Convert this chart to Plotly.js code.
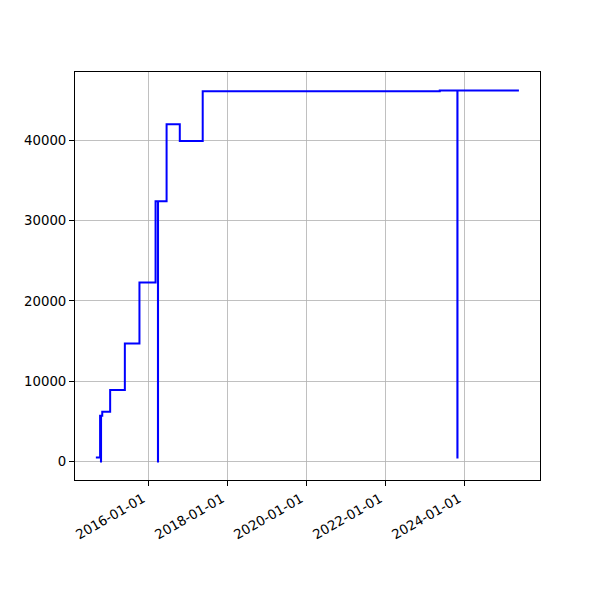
<!DOCTYPE html>
<html>
<head>
<meta charset="utf-8">
<script src="https://cdn.plot.ly/plotly-3.0.1.min.js"></script>
<style>html,body{margin:0;padding:0;background:#fff}#chart{width:600px;height:600px}</style>
</head>
<body>
<div id="chart"></div>
<script>
var dates = ["2014-08-29","2014-10-07","2014-10-15","2014-10-16","2014-10-27","2015-01-08","2015-05-24","2015-10-06","2016-03-03","2016-03-25","2016-03-26","2016-06-13","2016-10-13","2017-05-13","2023-05-14","2023-10-24","2023-10-25","2025-05-15"];
var values = [500,5700,0,5700,6200,8900,14700,22300,32400,0,32400,42000,39900,46100,46200,500,46200,46200];
var tickDates = ["2016-01-01","2018-01-01","2020-01-01","2022-01-01","2024-01-01"];
var yTicks = [0,10000,20000,30000,40000];

var trace = {
  x: dates, y: values, type: "scatter", mode: "lines",
  line: {color: "#0000ff", width: 2, shape: "hv"}
};
var font = {family: "DejaVu Sans", size: 13.3, color: "#000"};
var layout = {
  width: 600, height: 600,
  margin: {l: 75, r: 60, t: 72, b: 120},
  paper_bgcolor: "#fff", plot_bgcolor: "#fff",
  showlegend: false,
  font: font,
  xaxis: {
    type: "date",
    range: ["2014-02-17", "2025-11-26"],
    tickmode: "array", tickvals: tickDates, ticktext: tickDates,
    tickangle: -30, ticklabelshift: -6,
    showgrid: true, gridcolor: "#b0b0b0", gridwidth: 0.8,
    showline: true, linecolor: "#000", linewidth: 1, mirror: true,
    ticks: "outside", ticklen: 5, tickcolor: "#000", tickwidth: 1,
    zeroline: false, tickfont: font
  },
  yaxis: {
    range: [-2310, 48510],
    tickmode: "array", tickvals: yTicks, ticktext: yTicks.map(String),
    showgrid: true, gridcolor: "#b0b0b0", gridwidth: 0.8,
    showline: true, linecolor: "#000", linewidth: 1, mirror: true,
    ticks: "outside", ticklen: 5, tickcolor: "#000", tickwidth: 1,
    zeroline: false, tickfont: font
  }
};
Plotly.newPlot("chart", [trace], layout, {displayModeBar: false, staticPlot: true});
</script>
</body>
</html>
